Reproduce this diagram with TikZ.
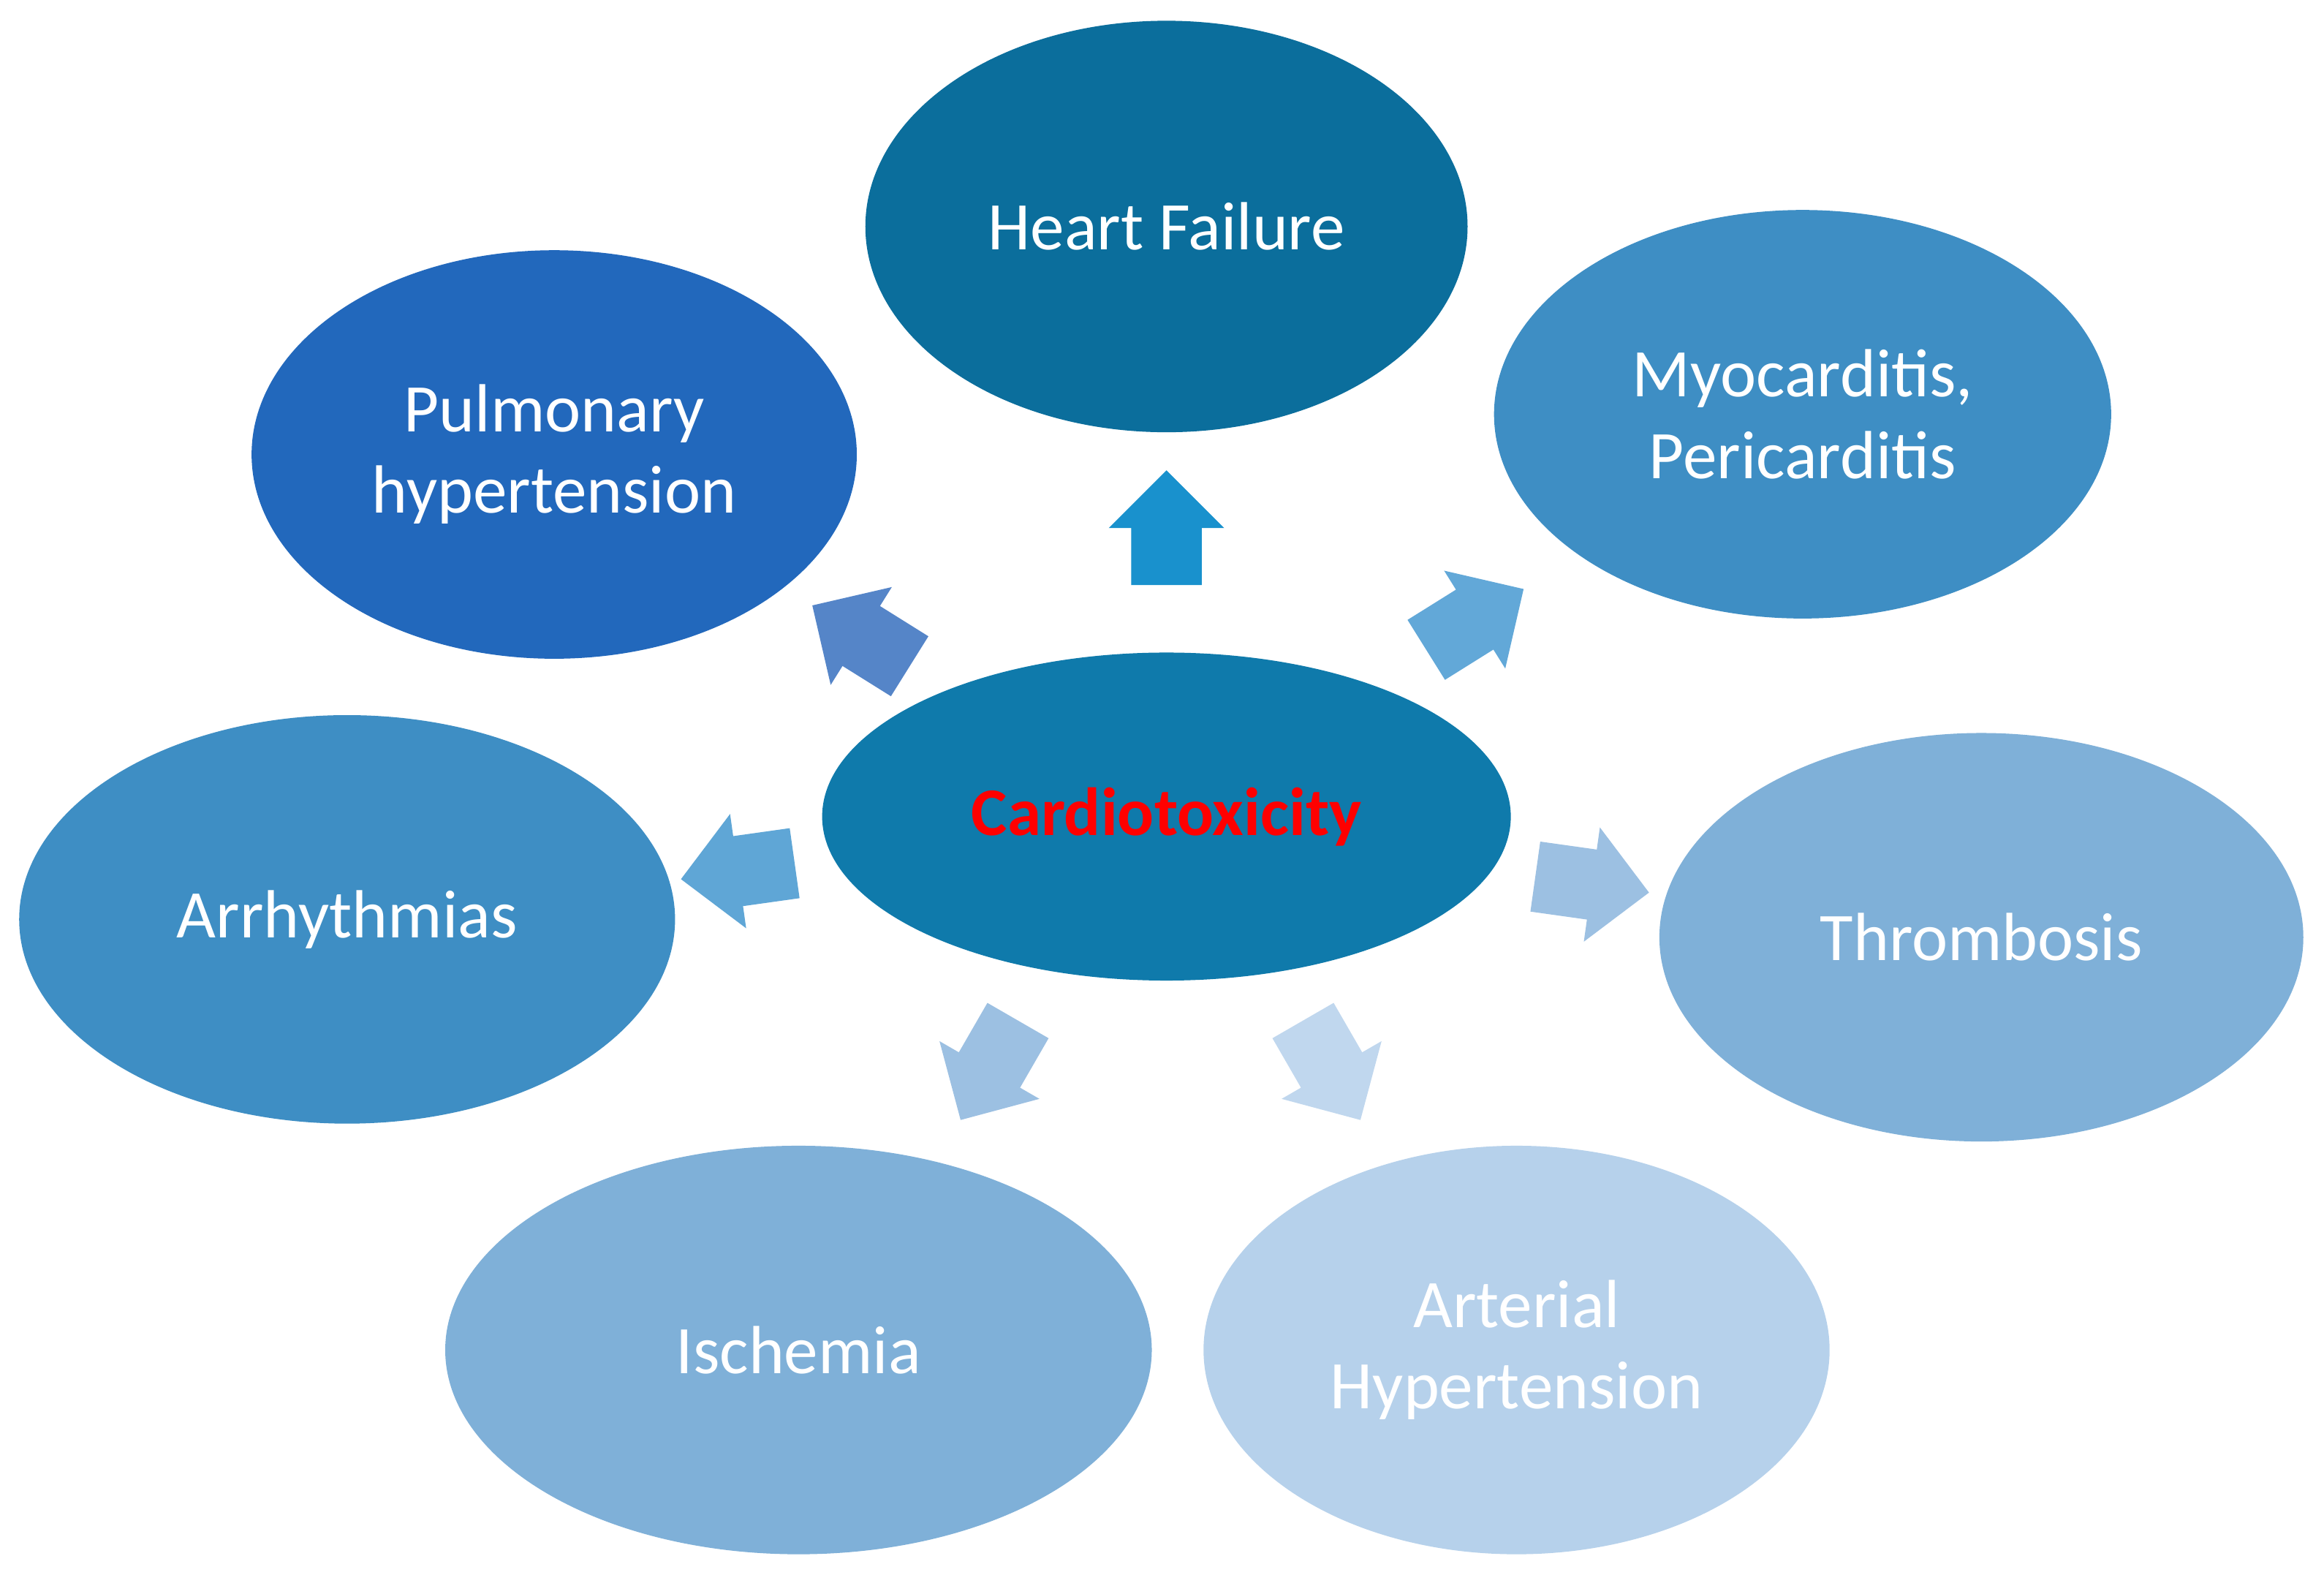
\documentclass[tikz,border=0pt]{standalone}
\usepackage{fontspec}
\setmainfont{Carlito}
\usetikzlibrary{shapes.geometric,shapes.arrows}
\definecolor{cHF}{HTML}{0B6E9C}
\definecolor{cPH}{HTML}{2268BC}
\definecolor{cMY}{HTML}{3E8EC4}
\definecolor{cCT}{HTML}{0F7AAB}
\definecolor{cTH}{HTML}{7FB0D8}
\definecolor{cAH}{HTML}{B6D1EB}
\definecolor{a1c}{HTML}{1991CD}
\definecolor{a2c}{RGB}{85,133,200}
\definecolor{a3c}{RGB}{98,168,216}
\definecolor{a4c}{RGB}{95,166,214}
\definecolor{a5c}{RGB}{156,192,226}
\definecolor{a7c}{RGB}{192,215,238}
\begin{document}
\begin{tikzpicture}[x=0.01cm,y=-0.01cm,
  ell/.style={ellipse,inner sep=0pt,text=white,font=\fontsize{13}{15.5}\selectfont,align=center},
  arr/.style={single arrow,draw=none,minimum width=0.76cm,minimum height=0.77cm,inner sep=0.23cm,single arrow head extend=0.15cm,single arrow head indent=0pt}]
\useasboundingbox[fill=white] (0,0) rectangle (1560,1057);
\node[ell,fill=cHF,minimum width=4.04cm,minimum height=2.76cm] (hf) at (783,152) {Heart Failure};
\node[ell,fill=cPH,minimum width=4.06cm,minimum height=2.74cm] (ph) at (372,305) {Pulmonary\\hypertension};
\node[ell,fill=cMY,minimum width=4.14cm,minimum height=2.74cm] (my) at (1210,278) {Myocarditis,\\Pericarditis};
\node[ell,fill=cCT,minimum width=4.62cm,minimum height=2.2cm,text=red,font=\bfseries\fontsize{13}{15.5}\selectfont] (ct) at (783,548) {Cardiotoxicity};
\node[ell,fill=cMY,minimum width=4.4cm,minimum height=2.74cm] (ar) at (233,617) {Arrhythmias};
\node[ell,fill=cTH,minimum width=4.32cm,minimum height=2.74cm] (th) at (1330,629) {Thrombosis};
\node[ell,fill=cTH,minimum width=4.74cm,minimum height=2.74cm] (is) at (536,906) {Ischemia};
\node[ell,fill=cAH,minimum width=4.2cm,minimum height=2.74cm] (ah) at (1018,906) {Arterial\\Hypertension};
\node[arr,fill=a1c,rotate=90] (a1) at (783,366) {};
\node[arr,fill=a2c,rotate=148] (a2) at (588,433) {};
\node[arr,fill=a3c,rotate=32] (a3) at (980,422) {};
\node[arr,fill=a4c,rotate=188] (a4) at (507,583) {};
\node[arr,fill=a5c,rotate=-8] (a5) at (1057,592) {};
\node[arr,fill=a5c,rotate=-120] (a6) at (670,708) {};
\node[arr,fill=a7c,rotate=-60] (a7) at (888,708) {};
\end{tikzpicture}
\end{document}
